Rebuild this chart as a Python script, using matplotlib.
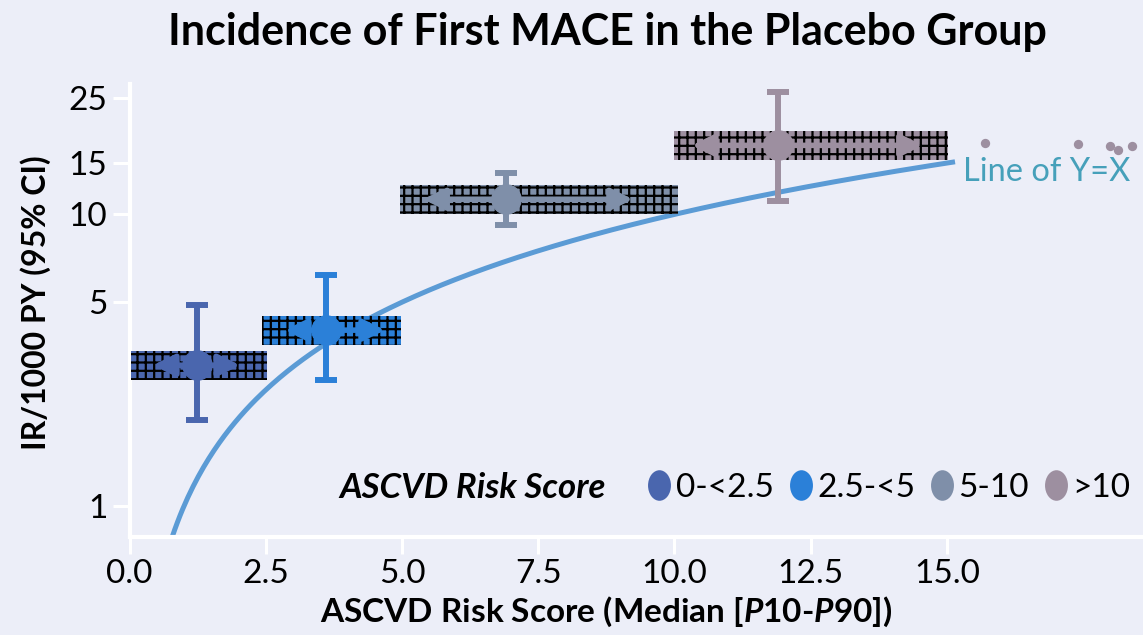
import numpy as np
import matplotlib
matplotlib.use("Agg")
from matplotlib import pyplot as plt
from matplotlib.lines import Line2D
from matplotlib.markers import MarkerStyle
from matplotlib.transforms import Affine2D

plt.rcParams['font.family'] = ['Lato', 'DejaVu Sans']
plt.rcParams['mathtext.fontset'] = 'custom'
plt.rcParams['mathtext.rm'] = 'Lato:bold'
plt.rcParams['mathtext.it'] = 'Lato:bold:italic'
plt.rcParams['hatch.linewidth'] = 1.6

# данные
groups = ['0-<2.5', '2.5-<5', '5-10', '>10']
colors = ['#4A66AE', '#2B80D8', '#7F8FA9', '#9D8FA0']
median = [1.24, 3.61, 6.91, 11.90]
range_lo = [0.03, 2.43, 4.96, 9.99]
range_hi = [2.52, 4.98, 10.07, 15.02]
arrow_lo = [0.43, 2.85, 5.39, 10.32]
arrow_hi = [2.03, 4.69, 9.24, 14.56]
ir = [3.04, 4.01, 11.27, 17.25]
ci_lo = [1.97, 2.70, 9.18, 11.09]
ci_hi = [4.88, 6.19, 13.9, 26.2]

extra_x = [15.7, 17.4, 18.0, 18.15, 18.4]
extra_y = [17.6, 17.4, 17.1, 16.6, 17.2]

xticks = [0, 2.5, 5, 7.5, 10, 12.5, 15]
yticks = [1, 5, 10, 15, 25]

bg = '#ECEEF8'
fig = plt.figure(figsize=(11.43, 6.35), dpi=100, facecolor=bg)
ax = fig.add_axes([0.1133, 0.1543, 0.8867, 0.7134])
ax.set_facecolor(bg)
ax.set_yscale('log')
ax.set_xlim(0, 18.6)
ax.set_ylim(0.783, 28.0)

# линия Y=X
lx = np.linspace(0.783, 15.15, 300)
ax.plot(lx, lx, color='#5B9BD5', lw=3.6, solid_capstyle='butt', zorder=2)
ax.text(15.3, 14.0, 'Line of Y=X', color='#46A0BA', fontsize=23.5,
        va='center', ha='left')

half = 10 ** 0.0497
for i in range(len(groups)):
    bottom = ir[i] / half
    top = ir[i] * half
    ax.bar(range_lo[i], top - bottom, bottom=bottom,
           width=range_hi[i] - range_lo[i], align='edge',
           color=colors[i], lw=0, zorder=3)
    ax.bar(range_lo[i], top - bottom, bottom=bottom,
           width=range_hi[i] - range_lo[i], align='edge',
           facecolor='none', edgecolor='black', hatch='++', lw=0, zorder=4)
    ax.annotate('', xy=(arrow_hi[i], ir[i]), xytext=(arrow_lo[i], ir[i]),
                arrowprops=dict(arrowstyle='<|-|>', color=colors[i], lw=4,
                                mutation_scale=32, shrinkA=0, shrinkB=0),
                zorder=5)
    ax.errorbar(median[i], ir[i],
                yerr=[[ir[i] - ci_lo[i]], [ci_hi[i] - ir[i]]],
                fmt='o', color=colors[i], ms=21, elinewidth=4.3,
                capsize=8, capthick=4.3, zorder=6)

ax.scatter(extra_x, extra_y, s=45, color='#9D8FA0', lw=0, zorder=6,
           clip_on=False)

ax.set_xticks(xticks)
ax.set_xticklabels([f'{t:.1f}' for t in xticks])
ax.set_yticks(yticks)
ax.set_yticklabels([str(t) for t in yticks])
ax.yaxis.set_minor_locator(matplotlib.ticker.NullLocator())
ax.tick_params(axis='both', colors='white', width=2.2, length=12,
               labelsize=24, labelcolor='black', pad=4)
for s in ['top', 'right']:
    ax.spines[s].set_visible(False)
for s in ['left', 'bottom']:
    ax.spines[s].set_color('white')
    ax.spines[s].set_linewidth(3)

# легенда
ell = MarkerStyle('o', transform=Affine2D().scale(0.75, 1.0))
handles = [Line2D([], [], ls='none', marker=ell, ms=22, color=c, mec='none')
           for c in colors]
fig.legend(handles, groups, ncol=4, loc='center left',
           bbox_to_anchor=(646 / 1143, 1 - 488 / 635), frameon=False,
           fontsize=24, handlelength=0.8, handletextpad=0.1,
           columnspacing=0.4, borderaxespad=0, borderpad=0)
fig.text(473 / 1143, 1 - 488 / 635, 'ASCVD Risk Score', fontsize=25,
         fontweight='bold', fontstyle='italic', ha='center', va='center')

fig.text(607 / 1143, 1 - 32 / 635, 'Incidence of First MACE in the Placebo Group',
         fontsize=31, fontweight='bold', ha='center', va='center')
fig.text(36 / 1143, 1 - 303 / 635, 'IR/1000 PY (95% CI)', fontsize=23,
         fontweight='bold', rotation=90, ha='center', va='center')
fig.text(606 / 1143, 1 - 612 / 635,
         r'ASCVD Risk Score (Median [$\mathit{P}$10-$\mathit{P}$90])',
         fontsize=24, fontweight='bold', ha='center', va='center')

fig.savefig('out.png', dpi=100, facecolor=bg)
